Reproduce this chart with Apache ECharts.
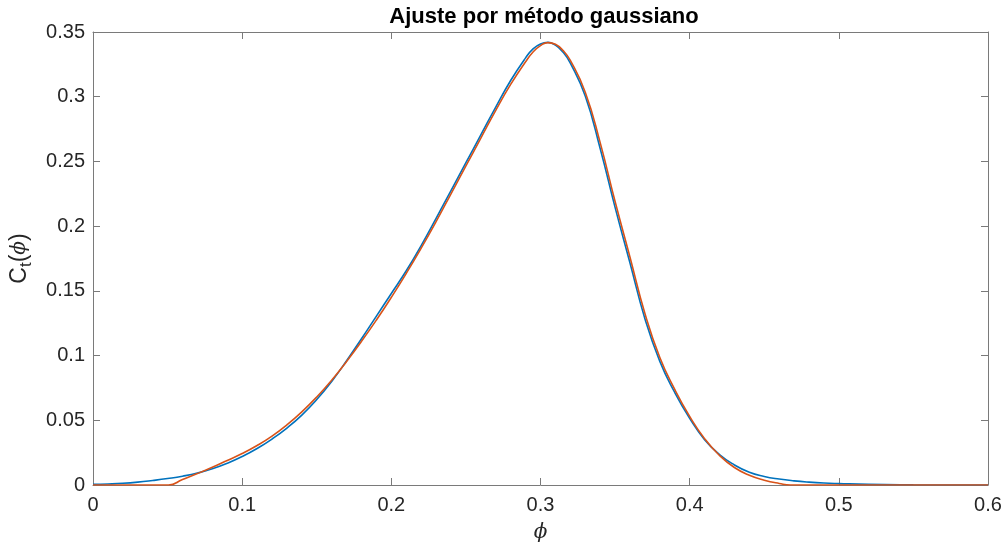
<!DOCTYPE html>
<html>
<head>
<meta charset="utf-8">
<script src="https://cdn.jsdelivr.net/npm/echarts@6/dist/echarts.min.js"></script>
<style>
html,body{margin:0;padding:0;background:#fff;}
#chart{width:1005px;height:548px;}
</style>
</head>
<body>
<div id="chart"></div>
<script>
// Measured data (blue)
const phiData = [0,0.01,0.02,0.03,0.04,0.05,0.06,0.07,0.08,0.09,0.10,0.11,0.12,0.13,0.14,0.15,0.16,0.17,0.18,0.19,0.20,0.21,0.22,0.23,0.24,0.25,0.26,0.27,0.28,0.29,0.295,0.30,0.305,0.31,0.315,0.32,0.33,0.34,0.35,0.36,0.37,0.38,0.39,0.40,0.41,0.42,0.43,0.44,0.45,0.46,0.47,0.48,0.49,0.50,0.52,0.55,0.60];
const ctData = [0.0005,0.0008,0.0013,0.0022,0.0035,0.0050,0.0068,0.0092,0.0125,0.0168,0.0220,0.0282,0.0355,0.0440,0.0540,0.0660,0.0800,0.0960,0.1130,0.1305,0.1480,0.1655,0.1850,0.2060,0.2275,0.2490,0.2705,0.2920,0.3125,0.3300,0.3370,0.3408,0.3420,0.3398,0.3345,0.3260,0.3005,0.2600,0.2145,0.1715,0.1285,0.0955,0.0715,0.0515,0.0350,0.0235,0.0155,0.0098,0.0066,0.0046,0.0032,0.0022,0.0015,0.0011,0.0005,0.0002,0.0];
// Gaussian fit (orange)
const phiFit = [0,0.0506,0.06,0.07,0.08,0.09,0.10,0.11,0.12,0.13,0.14,0.15,0.16,0.17,0.18,0.19,0.20,0.21,0.22,0.23,0.24,0.25,0.26,0.27,0.28,0.29,0.295,0.30,0.305,0.31,0.315,0.32,0.33,0.34,0.35,0.36,0.37,0.38,0.39,0.40,0.41,0.42,0.43,0.44,0.45,0.46,0.4676,0.60];
const ctFit = [0,0,0.0042,0.0088,0.0137,0.0190,0.0243,0.0305,0.0378,0.0465,0.0565,0.0680,0.0810,0.0955,0.1110,0.1275,0.1450,0.1635,0.1830,0.2035,0.2250,0.2465,0.2680,0.2895,0.3095,0.3270,0.3345,0.3395,0.3418,0.3405,0.3358,0.3280,0.3035,0.2645,0.2190,0.1760,0.1325,0.0985,0.0738,0.0530,0.0358,0.0228,0.0135,0.0075,0.0037,0.0012,0,0];

const xTicks = [0,0.1,0.2,0.3,0.4,0.5,0.6];
const yTicks = [0,0.05,0.1,0.15,0.2,0.25,0.3,0.35];
const titleText = 'Ajuste por método gaussiano';
const xName = 'ϕ';

const axisColor = '#7a7a7a';
const textColor = '#262626';
const font = 'Liberation Sans, Arial, sans-serif';

const zip = (a,b) => a.map((v,i)=>[v,b[i]]);

const chart = echarts.init(document.getElementById('chart'), null, {renderer:'canvas'});
const boxAxis = {
  axisLine:{show:true,onZero:false,lineStyle:{color:axisColor,width:1}},
  axisTick:{show:true,inside:true,length:7,lineStyle:{color:axisColor}},
  axisLabel:{show:false},
  splitLine:{show:false}
};
chart.setOption({
  animation:false,
  backgroundColor:'#fff',
  title:{
    text:titleText, left:539, top:1, textAlign:'center',
    textStyle:{fontFamily:font,fontWeight:'bold',fontSize:22,color:'#000'}
  },
  grid:{left:91,right:17,top:32,bottom:61,containLabel:false},
  xAxis:[{
    type:'value', min:0, max:0.6, interval:0.1,
    name:xName, nameLocation:'middle', nameGap:38,
    nameTextStyle:{fontFamily:'DejaVu Serif',fontStyle:'italic',fontSize:20,color:textColor},
    axisLine:{show:true,onZero:false,lineStyle:{color:axisColor,width:1}},
    axisTick:{show:true,inside:true,length:7,lineStyle:{color:axisColor}},
    axisLabel:{fontFamily:font,fontSize:20,color:textColor,margin:10,
      formatter:v=>{const t=xTicks.find(x=>Math.abs(x-v)<1e-9);return t===undefined?'':String(t);}},
    splitLine:{show:false}
  },Object.assign({type:'value',min:0,max:0.6,interval:0.1,position:'top'},boxAxis)],
  yAxis:[{
    type:'value', min:0, max:0.35, interval:0.05,
    name:'{a|C}{s|t}{a|(}{i|ϕ}{a|)}', nameLocation:'middle', nameGap:58, nameRotate:90,
    nameTextStyle:{
      rich:{
        a:{fontFamily:font,fontSize:23,color:textColor},
        s:{fontFamily:font,fontSize:17,color:textColor,verticalAlign:'bottom',padding:[14,0,0,0]},
        i:{fontFamily:'DejaVu Serif',fontStyle:'italic',fontSize:20,color:textColor}
      }
    },
    axisLine:{show:true,onZero:false,lineStyle:{color:axisColor,width:1}},
    axisTick:{show:true,inside:true,length:7,lineStyle:{color:axisColor}},
    axisLabel:{fontFamily:font,fontSize:20,color:textColor,margin:8,
      formatter:v=>{const t=yTicks.find(x=>Math.abs(x-v)<1e-9);return t===undefined?'':String(t);}},
    splitLine:{show:false}
  },Object.assign({type:'value',min:0,max:0.35,interval:0.05,position:'right'},boxAxis)],
  series:[{
    type:'line', data:zip(phiData,ctData), smooth:0.5, showSymbol:false,
    lineStyle:{color:'#0072BD',width:1.6}, z:2
  },{
    type:'line', data:zip(phiFit,ctFit), smooth:0.5, showSymbol:false,
    lineStyle:{color:'#D95319',width:1.6}, z:3
  }]
});
</script>
</body>
</html>
